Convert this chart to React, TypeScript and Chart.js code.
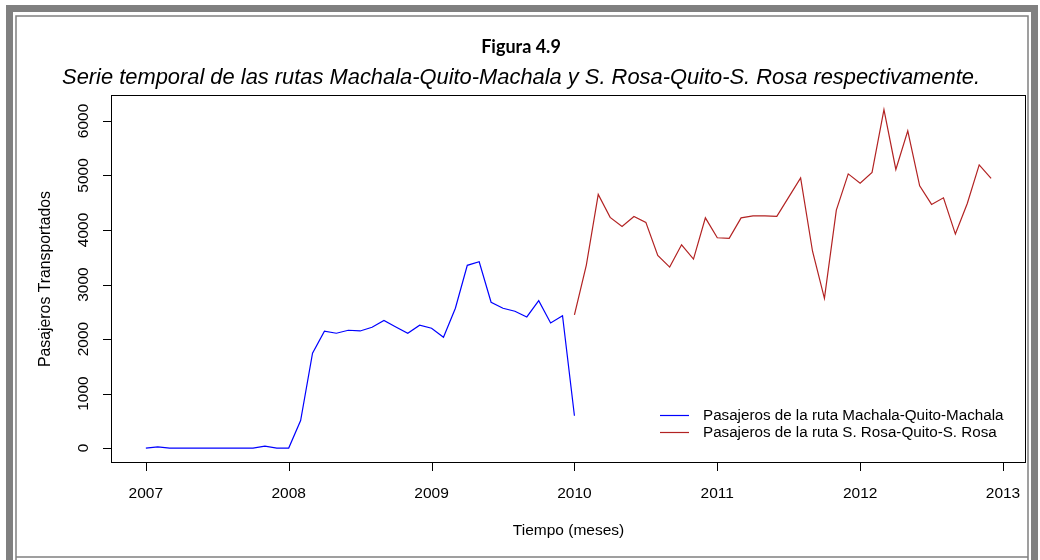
import React, { useEffect, useRef } from "react";
import { Chart, registerables } from "chart.js";

Chart.register(...registerables);

// ---------- data ----------
const machalaStartYear = 2007;
const machalaValues = [
  0, 20, 0, 0, 0, 0, 0, 0, 0, 0, 35, 0,
  0, 505, 1740, 2143, 2106, 2161, 2148, 2216, 2340, 2220, 2105, 2253,
  2198, 2033, 2564, 3352, 3418, 2674, 2564, 2509, 2405, 2703, 2295, 2429,
  592,
];
const rosaStartYear = 2010;
const rosaValues = [
  2441, 3357, 4652, 4231, 4066, 4249, 4139, 3535, 3320, 3729, 3467, 4223,
  3857, 3846, 4223, 4260, 4260, 4249, 4603, 4956, 3610, 2747, 4364, 5029,
  4859, 5055, 6209, 5110, 5817, 4810, 4469, 4590, 3925, 4487, 5194, 4945,
];
const xTickLabels = ["2007", "2008", "2009", "2010", "2011", "2012", "2013"];
const yTickValues = [0, 1000, 2000, 3000, 4000, 5000, 6000];
const titleText = "Figura 4.9";
const subtitleText =
  "Serie temporal de las rutas Machala-Quito-Machala y S. Rosa-Quito-S. Rosa respectivamente.";
const xAxisTitle = "Tiempo (meses)";
const yAxisTitle = "Pasajeros Transportados";
const legendLabels = [
  "Pasajeros de la ruta Machala-Quito-Machala",
  "Pasajeros de la ruta S. Rosa-Quito-S. Rosa",
];
const seriesColors = ["#0000FF", "#B22222"];

const toPoints = (start: number, vals: number[]) =>
  vals.map((v, i) => ({ x: start + i / 12, y: v }));

const ARIAL = '"Liberation Sans", Arial, sans-serif';

const decorPlugin = {
  id: "decor",
  beforeDraw(chart: any) {
    const ctx = chart.ctx;
    ctx.save();
    ctx.fillStyle = "#ffffff";
    ctx.fillRect(0, 0, chart.width, chart.height);
    ctx.restore();
  },
  afterDraw(chart: any) {
    const ctx: CanvasRenderingContext2D = chart.ctx;
    const a = chart.chartArea;
    const xs = chart.scales.x;
    const ys = chart.scales.y;
    const W = chart.width;
    const H = chart.height;
    ctx.save();

    // page frame
    ctx.fillStyle = "#808080";
    ctx.fillRect(6, 5, W - 12, 7);
    ctx.fillRect(6, 5, 7, H - 5);
    ctx.fillRect(W - 9, 5, 7, H - 5);
    ctx.strokeStyle = "#808080";
    ctx.lineWidth = 1.5;
    ctx.beginPath();
    ctx.moveTo(16, H);
    ctx.lineTo(16, 16);
    ctx.lineTo(W - 12, 16);
    ctx.lineTo(W - 12, H);
    ctx.moveTo(16, H - 3);
    ctx.lineTo(W - 12, H - 3);
    ctx.stroke();

    // plot box
    ctx.strokeStyle = "#000";
    ctx.lineWidth = 1;
    ctx.strokeRect(a.left - 0.5, a.top - 0.5, a.right - a.left + 1, a.bottom - a.top + 1);

    // x ticks
    ctx.fillStyle = "#000";
    ctx.font = `15.5px ${ARIAL}`;
    ctx.textAlign = "center";
    ctx.textBaseline = "middle";
    ctx.beginPath();
    const x0 = xs.getPixelForValue(Number(xTickLabels[0]));
    const x1 = xs.getPixelForValue(Number(xTickLabels[xTickLabels.length - 1]));
    ctx.moveTo(x0, a.bottom + 0.5);
    ctx.lineTo(x1, a.bottom + 0.5);
    xTickLabels.forEach((l) => {
      const px = Math.round(xs.getPixelForValue(Number(l))) + 0.5;
      ctx.moveTo(px, a.bottom);
      ctx.lineTo(px, a.bottom + 9);
    });
    ctx.stroke();
    xTickLabels.forEach((l) => {
      ctx.fillText(l, xs.getPixelForValue(Number(l)), a.bottom + 32);
    });

    // y ticks
    ctx.beginPath();
    yTickValues.forEach((v) => {
      const py = Math.round(ys.getPixelForValue(v)) + 0.5;
      ctx.moveTo(a.left - 9, py);
      ctx.lineTo(a.left, py);
    });
    ctx.stroke();
    yTickValues.forEach((v) => {
      const py = ys.getPixelForValue(v);
      ctx.save();
      ctx.translate(a.left - 28, py);
      ctx.rotate(-Math.PI / 2);
      ctx.fillText(String(v), 0, 0);
      ctx.restore();
    });

    // axis titles
    ctx.fillText(xAxisTitle, (a.left + a.right) / 2, a.bottom + 69);
    ctx.save();
    ctx.translate(46, (a.top + a.bottom) / 2);
    ctx.rotate(-Math.PI / 2);
    ctx.font = `15.8px ${ARIAL}`;
    ctx.fillText(yAxisTitle, 0, 0);
    ctx.restore();

    // titles
    ctx.font = `bold 18px Lato, "Liberation Sans", sans-serif`;
    ctx.fillText(titleText, W / 2 + 1, 47);
    ctx.font = `italic 100px ${ARIAL}`;
    const w100 = ctx.measureText(subtitleText).width;
    const subSize = (100 * 918) / w100;
    ctx.font = `italic ${subSize.toFixed(2)}px ${ARIAL}`;
    ctx.fillText(subtitleText, 521, 78);

    // legend
    ctx.font = `15.2px ${ARIAL}`;
    ctx.textAlign = "left";
    legendLabels.forEach((l, i) => {
      const ly = 415.5 + i * 17;
      ctx.strokeStyle = seriesColors[i];
      ctx.lineWidth = 1.2;
      ctx.beginPath();
      ctx.moveTo(660, ly);
      ctx.lineTo(689, ly);
      ctx.stroke();
      ctx.fillStyle = "#000";
      ctx.fillText(l, 703, ly);
    });

    ctx.restore();
  },
};

export default function App() {
  const ref = useRef<HTMLCanvasElement | null>(null);
  useEffect(() => {
    if (!ref.current) return;
    const chart = new Chart(ref.current, {
      type: "line",
      data: {
        datasets: [
          {
            label: legendLabels[0],
            data: toPoints(machalaStartYear, machalaValues),
            borderColor: seriesColors[0],
            borderWidth: 1.2,
            pointRadius: 0,
            tension: 0,
            fill: false,
          },
          {
            label: legendLabels[1],
            data: toPoints(rosaStartYear, rosaValues),
            borderColor: seriesColors[1],
            borderWidth: 1.2,
            pointRadius: 0,
            tension: 0,
            fill: false,
          },
        ],
      },
      options: {
        responsive: false,
        animation: false,
        layout: { padding: { left: 112, top: 96, right: 15, bottom: 98 } },
        plugins: {
          legend: { display: false },
          title: { display: false },
          tooltip: { enabled: false },
        },
        scales: {
          x: { type: "linear", display: false, min: 2006.763, max: 2013.154 },
          y: { type: "linear", display: false, min: -256, max: 6458 },
        },
      },
      plugins: [decorPlugin],
    });
    return () => chart.destroy();
  }, []);
  return (
    <div style={{ position: "fixed", left: 0, top: 0, width: 1040, height: 560, background: "#fff" }}>
      <canvas ref={ref} width={1040} height={560} style={{ width: 1040, height: 560 }} />
    </div>
  );
}
